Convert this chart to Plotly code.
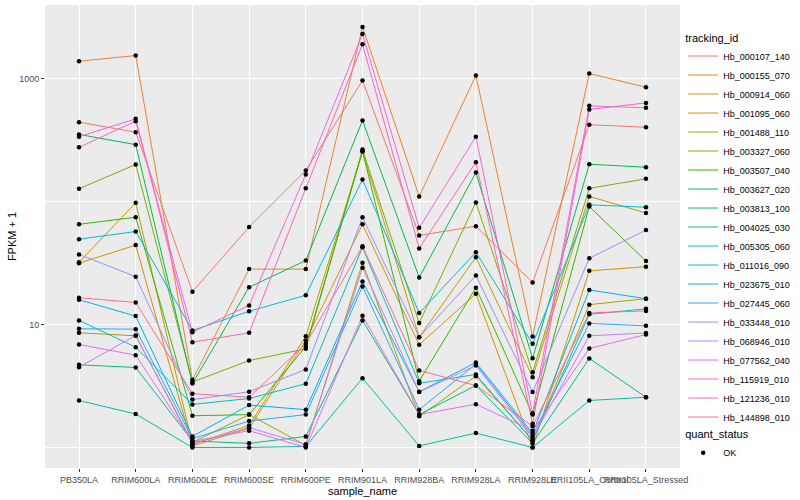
import plotly.graph_objects as go

samples = ["PB350LA", "RRIM600LA", "RRIM600LE", "RRIM600SE", "RRIM600PE", "RRIM901LA",
           "RRIM928BA", "RRIM928LA", "RRIM928LE", "RRII105LA_Control", "RRII105LA_Stressed"]

tracking_ids = ["Hb_000107_140", "Hb_000155_070", "Hb_000914_060", "Hb_001095_060",
                "Hb_001488_110", "Hb_003327_060", "Hb_003507_040", "Hb_003627_020",
                "Hb_003813_100", "Hb_004025_030", "Hb_005305_060", "Hb_011016_090",
                "Hb_023675_010", "Hb_027445_060", "Hb_033448_010", "Hb_068946_010",
                "Hb_077562_040", "Hb_115919_010", "Hb_121236_010", "Hb_144898_010"]

# FPKM + 1 per sample (order of `samples`)
hb_000107_140 = [442, 366, 18.5, 62, 179, 964, 53, 63, 22, 421, 402]
hb_000155_070 = [1384, 1538, 3.55, 28.2, 28.2, 2630, 110, 1057, 8.0, 1099, 849]
hb_000914_060 = [31.5, 44.2, 1.03, 1.43, 7.41, 65.3, 6.84, 17.8, 1.0, 27.3, 29.5]
hb_001095_060 = [32.1, 97.5, 1.06, 1.51, 8.03, 255, 7.88, 35.2, 3.73, 110, 80.6]
hb_001488_110 = [8.56, 8.09, 1.10, 1.85, 1.04, 31.7, 1.79, 3.80, 1.14, 14.5, 16.2]
hb_003327_060 = [127, 200, 3.40, 5.09, 6.34, 265, 10.3, 98.2, 4.09, 128, 153]
hb_003507_040 = [65.3, 74.5, 1.81, 1.85, 6.62, 256, 3.46, 19.9, 1.85, 91, 32.8]
hb_003627_020 = [351, 290, 3.31, 20.1, 33.1, 456, 24.1, 172, 5.32, 201, 190]
hb_003813_100 = [4.70, 4.47, 1.13, 1.08, 1.23, 10.8, 1.85, 3.19, 1.08, 5.30, 2.56]
hb_004025_030 = [2.41, 1.87, 1.0, 1.0, 1.02, 3.66, 1.03, 1.31, 1.0, 2.41, 2.56]
hb_005305_060 = [10.8, 6.54, 2.24, 2.50, 3.30, 42.5, 3.33, 3.92, 1.14, 12.1, 13.4]
hb_011016_090 = [49.4, 57.0, 8.94, 12.8, 17.3, 151, 12.4, 38.7, 6.97, 94.0, 89.9]
hb_023675_010 = [15.9, 11.7, 1.23, 2.21, 2.03, 22.4, 2.84, 4.91, 1.31, 19.1, 16.2]
hb_027445_060 = [9.23, 9.16, 1.18, 1.64, 1.85, 20.4, 2.03, 4.77, 1.25, 10.2, 9.76]
hb_033448_010 = [37.1, 24.5, 2.45, 2.84, 4.31, 74.5, 7.88, 25.0, 2.82, 34.6, 58.6]
hb_068946_010 = [4.50, 8.14, 1.07, 1.45, 1.06, 29.0, 2.82, 4.64, 1.20, 8.09, 8.53]
hb_077562_040 = [6.88, 5.63, 1.12, 1.37, 1.0, 11.8, 1.85, 2.25, 1.37, 6.38, 8.29]
hb_115919_010 = [276, 450, 8.66, 14.3, 166, 2307, 61.1, 337, 1.90, 600, 578]
hb_121236_010 = [337, 470, 7.18, 8.56, 128, 1901, 41.5, 209, 1.56, 560, 634]
hb_144898_010 = [16.5, 15.1, 2.74, 2.56, 6.97, 43.3, 4.23, 3.19, 1.49, 12.4, 12.9]

series_values = [hb_000107_140, hb_000155_070, hb_000914_060, hb_001095_060, hb_001488_110,
                 hb_003327_060, hb_003507_040, hb_003627_020, hb_003813_100, hb_004025_030,
                 hb_005305_060, hb_011016_090, hb_023675_010, hb_027445_060, hb_033448_010,
                 hb_068946_010, hb_077562_040, hb_115919_010, hb_121236_010, hb_144898_010]

quant_status = ["OK"]

palette = ["#F8766D", "#EA8331", "#D89000", "#C09B00", "#A3A500", "#7CAE00", "#39B600",
           "#00BB4E", "#00BF7D", "#00C1A3", "#00BFC4", "#00BAE0", "#00B0F6", "#35A2FF",
           "#9590FF", "#C77CFF", "#E76BF3", "#FA62DB", "#FF62BC", "#FF6C91"]

FONT = "Liberation Sans"

fig = go.Figure()
for name, vals, col in zip(tracking_ids, series_values, palette):
    fig.add_trace(go.Scatter(x=samples, y=vals, mode="lines", name=name,
                             line=dict(color=col, width=1), legend="legend"))

px_x, px_y = [], []
for vals in series_values:
    px_x.extend(samples)
    px_y.extend(vals)
fig.add_trace(go.Scatter(x=px_x, y=px_y, mode="markers", name=quant_status[0],
                         marker=dict(color="black", size=4.5, symbol="circle"),
                         legend="legend2"))

fig.update_layout(
    width=800, height=500,
    margin=dict(l=45, r=116, t=5, b=32),
    paper_bgcolor="white", plot_bgcolor="#EBEBEB",
    font=dict(family=FONT, size=9, color="#1A1A1A"),
    xaxis=dict(type="category", categoryorder="array", categoryarray=samples,
               range=[-0.6, 10.6], showgrid=True, gridcolor="white", gridwidth=1.1,
               zeroline=False, ticks="outside", ticklen=3, tickcolor="#333333",
               tickangle=0, tickfont=dict(size=9, color="#4D4D4D", family=FONT),
               title=dict(text="sample_name", font=dict(size=11, color="black", family=FONT),
                          standoff=0),
               automargin=False, showline=False),
    yaxis=dict(type="log", range=[-0.167, 3.598], tickvals=[10, 1000],
               ticktext=["10", "1000"], showgrid=True, gridcolor="white", gridwidth=1.1,
               minor=dict(tickvals=[1, 100], showgrid=True, gridcolor="white",
                          gridwidth=0.55, ticks=""),
               zeroline=False, ticks="outside", ticklen=3, tickcolor="#333333",
               tickfont=dict(size=9, color="#4D4D4D", family=FONT),
               title=dict(text="FPKM + 1", font=dict(size=11, color="black", family=FONT),
                          standoff=0),
               automargin=False, showline=False),
    legend=dict(title=dict(text="tracking_id", font=dict(size=11, color="black")),
                x=1.005, xanchor="left", y=0.952, yanchor="top",
                font=dict(size=9, color="black"), bgcolor="rgba(255,255,255,0)",
                itemclick=False, itemdoubleclick=False),
    legend2=dict(title=dict(text="quant_status", font=dict(size=11, color="black")),
                 x=1.005, xanchor="left", y=0.095, yanchor="top",
                 font=dict(size=9, color="black"), bgcolor="rgba(255,255,255,0)"),
)

fig.write_html("out.html", config={"displayModeBar": False},
               post_script="document.body.style.margin='0';document.body.style.overflow='hidden';")
